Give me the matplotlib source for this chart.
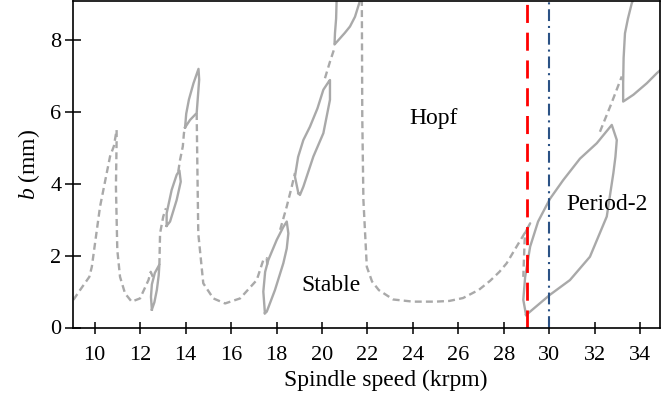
import matplotlib
matplotlib.use('Agg')
import matplotlib.pyplot as plt

plt.rcParams['font.family'] = ['Liberation Serif', 'DejaVu Serif']
plt.rcParams['mathtext.fontset'] = 'custom'
plt.rcParams['mathtext.rm'] = 'Liberation Serif'
plt.rcParams['mathtext.it'] = 'Liberation Serif:italic'
plt.rcParams['lines.scale_dashes'] = False

# ---------------- data (spindle speed in krpm, depth of cut b in mm) ----------------
# Hopf stability boundary (dashed) pieces
hopf1_x = [9.07, 9.36, 9.77, 9.88, 10.24, 10.68, 10.85, 10.97, 10.97, 10.94, 11.00, 11.12, 11.34, 11.63, 12.00, 12.37, 12.47, 12.56]
hopf1_y = [0.77, 1.04, 1.41, 1.69, 3.36, 4.76, 5.05, 5.50, 5.22, 3.92, 2.16, 1.41, 0.95, 0.72, 0.81, 1.32, 1.55, 1.41]
hopf2_x = [12.85, 12.88, 13.02, 13.14]
hopf2_y = [1.74, 2.62, 3.09, 3.32]
hopf3_x = [13.68, 13.76, 13.88, 13.93, 13.98]
hopf3_y = [4.34, 4.67, 5.04, 5.41, 5.59]
hopf4_x = [14.49, 14.52, 14.56, 14.78, 15.22, 15.74, 16.40, 17.13, 17.42, 17.57, 17.60]
hopf4_y = [5.97, 4.48, 2.62, 1.23, 0.81, 0.67, 0.81, 1.32, 1.88, 1.93, 1.69]
hopf5_x = [18.16, 18.45, 18.67, 18.81]
hopf5_y = [2.72, 3.37, 3.92, 4.30]
hopf6_x = [20.13, 20.35, 20.57]
hopf6_y = [6.94, 7.40, 7.82]
hopf7_x = [21.75, 21.77, 21.82, 21.97, 22.20, 22.50, 23.13, 24.00, 25.00, 25.60, 26.20, 26.90, 27.39, 27.80, 28.12, 28.60, 29.00, 29.15, 28.92, 28.85]
hopf7_y = [9.30, 5.87, 3.55, 1.69, 1.28, 1.04, 0.78, 0.72, 0.72, 0.74, 0.82, 1.05, 1.30, 1.55, 1.79, 2.30, 2.72, 2.90, 2.62, 1.41]
hopf8_x = [32.22, 32.70, 33.18]
hopf8_y = [5.45, 6.20, 6.99]

# Period-2 (flip) boundaries (solid loops)
flip1_x = [12.52, 12.48, 12.52, 12.65, 12.85, 12.82, 12.74, 12.63, 12.52]
flip1_y = [0.50, 0.85, 1.20, 1.52, 1.75, 1.45, 1.05, 0.70, 0.50]
flip2_x = [13.17, 13.17, 13.39, 13.61, 13.73, 13.79, 13.61, 13.32, 13.17]
flip2_y = [2.83, 3.18, 3.83, 4.25, 4.37, 4.06, 3.55, 2.95, 2.83]
flip3_x = [13.98, 14.20, 14.49, 14.60, 14.57, 14.35, 14.15, 14.03, 13.98]
flip3_y = [5.57, 5.78, 5.97, 6.90, 7.20, 6.80, 6.35, 5.95, 5.57]
flip4_x = [17.49, 17.42, 17.50, 17.64, 18.01, 18.30, 18.45, 18.52, 18.45, 18.30, 17.93, 17.57, 17.49]
flip4_y = [0.40, 1.00, 1.55, 1.88, 2.44, 2.80, 2.95, 2.62, 2.20, 1.79, 1.04, 0.44, 0.40]
flip5_x = [18.96, 18.81, 18.95, 19.18, 19.47, 19.80, 20.06, 20.30, 20.35, 20.35, 20.06, 19.62, 19.18, 19.03, 18.96]
flip5_y = [3.74, 4.20, 4.75, 5.22, 5.59, 6.10, 6.62, 6.85, 6.89, 6.34, 5.41, 4.76, 3.92, 3.69, 3.74]
flip6_x = [20.65, 20.62, 20.57, 20.55, 20.65, 20.79, 21.00, 21.23, 21.45, 21.72]
flip6_y = [9.30, 8.60, 8.19, 7.88, 7.95, 8.05, 8.20, 8.38, 8.65, 9.20]
flip7_x = [28.97, 28.85, 28.93, 29.15, 29.50, 30.02, 30.60, 31.34, 32.08, 32.74, 32.96, 32.90, 32.81, 32.52, 31.78, 30.90, 30.02, 29.07, 28.97]
flip7_y = [0.35, 0.77, 1.40, 2.25, 2.95, 3.58, 4.10, 4.70, 5.13, 5.64, 5.22, 4.75, 4.30, 3.09, 1.97, 1.32, 0.91, 0.40, 0.35]
flip8_x = [33.80, 33.62, 33.45, 33.32, 33.26, 33.24, 33.24, 33.69, 34.28, 34.72, 34.90]
flip8_y = [9.30, 9.03, 8.60, 8.19, 7.50, 6.80, 6.29, 6.48, 6.80, 7.08, 7.18]

hopf_x = [hopf1_x, hopf2_x, hopf3_x, hopf4_x, hopf5_x, hopf6_x, hopf7_x, hopf8_x]
hopf_y = [hopf1_y, hopf2_y, hopf3_y, hopf4_y, hopf5_y, hopf6_y, hopf7_y, hopf8_y]
flip_x = [flip1_x, flip2_x, flip3_x, flip4_x, flip5_x, flip6_x, flip7_x, flip8_x]
flip_y = [flip1_y, flip2_y, flip3_y, flip4_y, flip5_y, flip6_y, flip7_y, flip8_y]

red_speed = 29.0
blue_speed = 30.0

x_ticks = [10, 12, 14, 16, 18, 20, 22, 24, 26, 28, 30, 32, 34]
y_ticks = [0, 2, 4, 6, 8]

region_labels = ['Hopf', 'Stable', 'Period-2']
region_x = [24.9, 20.39, 32.55]
region_y = [5.83, 1.18, 3.42]

# ---------------- plot ----------------
GRAY = '#A9A9A9'
fig = plt.figure(figsize=(6.66, 3.98), dpi=100)
ax = fig.add_axes([73.4 / 666, (398 - 327.5) / 398, (660 - 73.4) / 666, (327.5 - 1) / 398])

for xs, ys in zip(hopf_x, hopf_y):
    ax.plot(xs, ys, color=GRAY, lw=1.7, ls=(0, (5, 3)), dash_capstyle='butt')
for xs, ys in zip(flip_x, flip_y):
    ax.plot(xs, ys, color=GRAY, lw=1.7, solid_joinstyle='round')

ax.axvline(red_speed, color='#FF0000', lw=2.0, ls=(0, (13, 7)))
ax.axvline(blue_speed, color='#2B5285', lw=1.5, ls=(0, (8.5, 3.5, 1.5, 3.5)))

for lab, tx, ty in zip(region_labels, region_x, region_y):
    ax.text(tx, ty, lab, ha='center', va='center', fontsize=17)

ax.set_xlim(9.07, 34.86)
ax.set_ylim(0, 9.09)
ax.set_xticks(x_ticks)
ax.set_yticks(y_ticks)
ax.tick_params(axis='x', direction='inout', length=8, width=1.1, labelsize=16, pad=9)
ax.tick_params(axis='y', direction='inout', length=11, width=1.1, labelsize=16, pad=3)
for sp in ax.spines.values():
    sp.set_linewidth(1.2)

ax.set_xlabel('Spindle speed (krpm)', fontsize=17, labelpad=4)
ax.xaxis.label.set_x(0.533)
ax.set_ylabel(r'$b$ (mm)', fontsize=17, labelpad=6)

fig.savefig('out.png', dpi=100)
